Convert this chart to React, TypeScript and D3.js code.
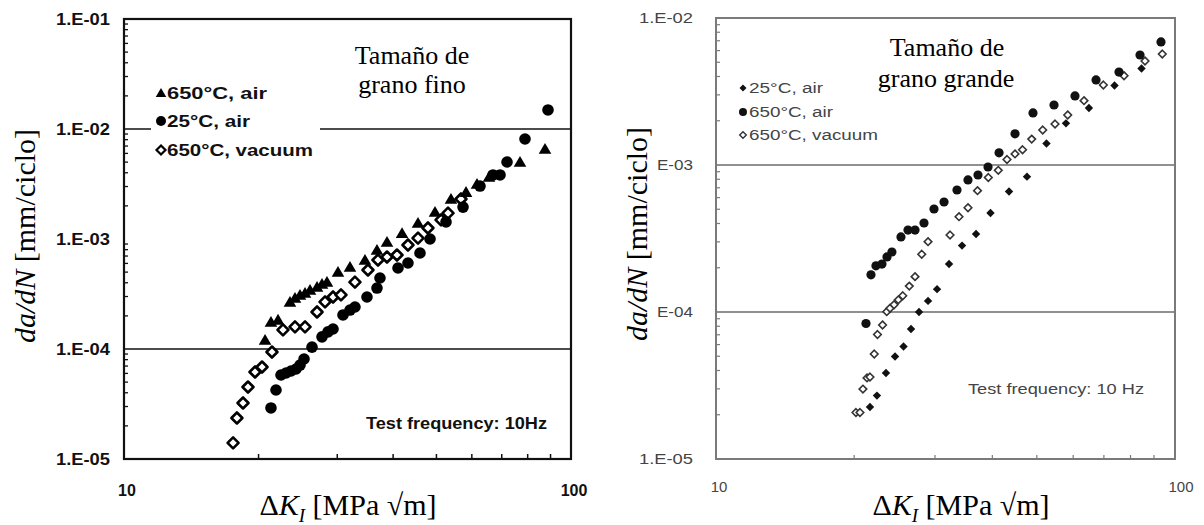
import React from "react";
import * as d3 from "d3";

// ---------- data (ΔK [MPa√m], da/dN [mm/ciclo]) ----------
// Left chart: fine grain
const fineAir650: [number, number][] = [
  [20.68, 1.21e-4], [21.32, 1.76e-4], [22.11, 1.84e-4], [23.51, 2.68e-4], [24.13, 2.91e-4],
  [24.76, 3.1e-4], [25.41, 3.23e-4], [26.07, 3.44e-4], [27.03, 3.66e-4], [27.73, 3.9e-4],
  [28.45, 4.06e-4], [30.11, 5.01e-4], [32.03, 5.57e-4], [34.6, 6.44e-4], [36.81, 7.94e-4],
  [38.76, 9.39e-4], [41.88, 1.13e-3], [45.47, 1.4e-3], [49.63, 1.76e-3], [53.89, 2.31e-3],
  [58.23, 2.67e-3], [61.62, 3.16e-3], [65.55, 3.66e-3], [76.9, 5.01e-3], [87.47, 6.58e-3],
];
const fineAir25: [number, number][] = [
  [21.32, 2.91e-5], [21.88, 4.24e-5], [22.45, 5.8e-5], [23.04, 6.05e-5], [23.64, 6.31e-5],
  [24.26, 6.58e-5], [24.76, 7.15e-5], [25.28, 8.11e-5], [26.34, 1.04e-4], [27.73, 1.29e-4],
  [28.6, 1.43e-4], [29.35, 1.52e-4], [30.9, 2.04e-4], [32.03, 2.26e-4], [32.86, 2.41e-4],
  [34.96, 2.97e-4], [36.81, 3.58e-4], [37.38, 4.42e-4], [41.02, 5.45e-4], [43.18, 6.05e-4],
  [45.94, 7.46e-4], [48.37, 1.0e-3], [52.53, 1.43e-3], [57.34, 1.95e-3], [62.58, 3.03e-3],
  [66.92, 3.82e-3], [69.38, 3.82e-3], [71.92, 5.01e-3], [78.9, 8.11e-3], [88.83, 1.49e-2],
];
const fineVac650: [number, number][] = [
  [17.54, 1.4e-5], [17.89, 2.36e-5], [18.46, 3.23e-5], [18.94, 4.51e-5], [19.64, 6.18e-5],
  [20.36, 6.86e-5], [21.43, 9.39e-5], [22.68, 1.49e-4], [24.13, 1.59e-4], [25.41, 1.59e-4],
  [27.03, 2.17e-4], [28.17, 2.68e-4], [29.35, 2.97e-4], [30.58, 3.1e-4], [32.86, 4.06e-4],
  [35.14, 5.23e-4], [37.0, 6.44e-4], [38.76, 6.86e-4], [40.8, 7.15e-4], [43.18, 8.82e-4],
  [45.47, 1.02e-3], [47.86, 1.26e-3], [51.2, 1.49e-3], [53.07, 1.72e-3], [56.74, 2.31e-3],
];

// Right chart: coarse grain
const coarseAir650: [number, number][] = [
  [21.22, 8.35e-5], [21.76, 1.79e-4], [22.31, 2.06e-4], [22.99, 2.12e-4], [23.58, 2.37e-4],
  [24.17, 2.56e-4], [25.29, 3.24e-4], [26.2, 3.61e-4], [27.14, 3.61e-4], [28.39, 4.03e-4],
  [29.85, 5.02e-4], [31.39, 5.6e-4], [33.5, 6.76e-4], [35.4, 7.91e-4], [37.22, 8.55e-4],
  [39.14, 9.69e-4], [41.37, 1.21e-3], [44.82, 1.63e-3], [49.05, 2.26e-3], [54.5, 2.56e-3],
  [60.55, 2.95e-3], [67.29, 3.79e-3], [75.51, 4.29e-3], [83.9, 5.6e-3], [93.22, 6.87e-3],
];
const coarseAir25: [number, number][] = [
  [21.65, 2.26e-5], [22.42, 2.7e-5], [23.46, 3.85e-5], [24.55, 4.98e-5], [25.62, 5.82e-5],
  [26.6, 7.66e-5], [27.69, 1.0e-4], [28.97, 1.19e-4], [30.31, 1.43e-4], [32.19, 2.12e-4],
  [34.36, 2.83e-4], [36.86, 3.39e-4], [39.63, 4.72e-4], [43.49, 6.6e-4], [47.59, 8.33e-4],
  [52.48, 1.4e-3], [57.87, 1.92e-3], [64.94, 2.44e-3], [73.83, 3.47e-3], [84.53, 4.53e-3],
];
const coarseVac650: [number, number][] = [
  [20.18, 2.07e-5], [20.59, 2.07e-5], [20.9, 2.99e-5], [21.33, 3.56e-5], [21.65, 3.61e-5],
  [22.12, 5.18e-5], [22.48, 7.03e-5], [23.06, 8.16e-5], [23.55, 1.005e-4], [23.94, 1.06e-4],
  [24.43, 1.12e-4], [24.96, 1.21e-4], [25.52, 1.29e-4], [26.37, 1.5e-4], [27.14, 1.74e-4],
  [28.07, 2.47e-4], [28.97, 3.01e-4], [32.35, 3.34e-4], [33.84, 4.45e-4], [35.4, 5.12e-4],
  [37.13, 6.69e-4], [39.2, 8.22e-4], [41.21, 9.2e-4], [43.05, 1.09e-3], [44.82, 1.19e-3],
  [46.54, 1.27e-3], [48.73, 1.5e-3], [51.5, 1.73e-3], [54.78, 1.9e-3], [58.38, 2.19e-3],
  [63.36, 2.74e-3], [69.81, 3.5e-3], [77.44, 4.05e-3], [86.03, 5.1e-3], [93.83, 5.69e-3],
];

const xTickValues = [10, 100];
const xTickLabels = ["10", "100"];
const leftYValues = [1e-1, 1e-2, 1e-3, 1e-4, 1e-5];
const leftYLabels = ["1.E-01", "1.E-02", "1.E-03", "1.E-04", "1.E-05"];
const rightYValues = [1e-2, 1e-3, 1e-4, 1e-5];
const rightYLabels = ["1.E-02", "E-03", "E-04", "1.E-05"];
const leftGrid = [1e-2, 1e-4];
const rightGrid = [1e-3, 1e-4];
const leftLegend = ["650°C, air", "25°C, air", "650°C, vacuum"];
const rightLegend = ["25°C, air", "650°C, air", "650°C, vacuum"];

const SANS = "'Liberation Sans', Arial, sans-serif";
const SERIF = "'Liberation Serif', 'Times New Roman', serif";

function minorTicks(lo: number, hi: number): number[] {
  const out: number[] = [];
  for (let d = lo; d < hi; d *= 10) for (let k = 2; k <= 9; k++) out.push(d * k);
  return out;
}

const tri = (x: number, y: number, r: number) =>
  `M${x},${y - r}L${x + r * 1.05},${y + r * 0.8}L${x - r * 1.05},${y + r * 0.8}Z`;
const dia = (x: number, y: number, r: number) =>
  `M${x},${y - r}L${x + r},${y}L${x},${y + r}L${x - r},${y}Z`;

function AxisTitles({ cx, yTitleX, yTitleY }: { cx: number; yTitleX: number; yTitleY: number }) {
  return (
    <g fontFamily={SERIF} fill="#000">
      <text x={cx} y={515} fontSize={30} textAnchor="middle">
        ΔK<tspan fontStyle="italic" dx={-2}></tspan>
      </text>
      <text
        transform={`translate(${yTitleX},${yTitleY}) rotate(-90)`}
        fontSize={30}
        textAnchor="middle"
      >
        <tspan fontStyle="italic">da/dN</tspan> [mm/ciclo]
      </text>
    </g>
  );
}

function XTitle({ cx }: { cx: number }) {
  return (
    <text x={cx} y={515} fontSize={30} textAnchor="middle" fontFamily={SERIF} fill="#000">
      Δ<tspan fontStyle="italic">K</tspan>
      <tspan fontStyle="italic" fontSize={19} dy={7}>I</tspan>
      <tspan dy={-7}> [MPa √m]</tspan>
    </text>
  );
}

function YTitle({ x, y }: { x: number; y: number }) {
  return (
    <text
      transform={`translate(${x},${y}) rotate(-90)`}
      fontSize={30}
      textAnchor="middle"
      fontFamily={SERIF}
      fill="#000"
    >
      <tspan fontStyle="italic">da/dN</tspan> [mm/ciclo]
    </text>
  );
}

function LeftChart() {
  const x = d3.scaleLog().domain([10, 100]).range([124, 571]);
  const y = d3.scaleLog().domain([1e-5, 1e-1]).range([459, 19]);
  const yMinor = minorTicks(1e-5, 1e-1);
  const xMinor = minorTicks(10, 100);
  const lw = [100, 83, 146];
  return (
    <g>
      {/* grid */}
      {leftGrid.map((v) => (
        <line key={v} x1={124} x2={571} y1={y(v)} y2={y(v)} stroke="#111" strokeWidth={1.6} />
      ))}
      {/* minor ticks */}
      {yMinor.map((v) => (
        <line key={"ym" + v} x1={124} x2={128} y1={y(v)} y2={y(v)} stroke="#111" strokeWidth={1.3} />
      ))}
      {xMinor.map((v) => (
        <line key={"xm" + v} x1={x(v)} x2={x(v)} y1={459} y2={454} stroke="#111" strokeWidth={1.5} />
      ))}
      {/* frame */}
      <rect x={124} y={19} width={447} height={440} fill="none" stroke="#111" strokeWidth={2.2} />
      {/* legend box (hides grid line) */}
      <rect x={151} y={80} width={169} height={82} fill="#fff" />
      {/* data */}
      {fineVac650.map(([a, b], i) => (
        <path key={"v" + i} d={dia(x(a), y(b), 5.5)} fill="#fff" stroke="#000" strokeWidth={2.6} strokeLinejoin="round" />
      ))}
      {fineAir25.map(([a, b], i) => (
        <circle key={"c" + i} cx={x(a)} cy={y(b)} r={5.8} fill="#000" />
      ))}
      {fineAir650.map(([a, b], i) => (
        <path key={"t" + i} d={tri(x(a), y(b), 6)} fill="#000" />
      ))}
      {/* legend */}
      <g fontFamily={SANS} fontWeight="bold" fontSize={16} fill="#111">
        <path d={tri(161, 93, 5)} fill="#000" />
        <circle cx={161} cy={121} r={5} fill="#000" />
        <path d={dia(161, 150, 4.5)} fill="#fff" stroke="#000" strokeWidth={2.2} />
        {leftLegend.map((t, i) => (
          <text key={t} x={167} y={[93, 121, 150][i] + 6} textLength={lw[i]} lengthAdjust="spacingAndGlyphs">
            {t}
          </text>
        ))}
      </g>
      <text x={366} y={429} fontFamily={SANS} fontWeight="bold" fontSize={16} fill="#111" textLength={181} lengthAdjust="spacingAndGlyphs">
        Test frequency: 10Hz
      </text>
      {/* tick labels */}
      <g fontFamily={SANS} fontWeight="bold" fontSize={16} fill="#111">
        {leftYValues.map((v, i) => (
          <text key={v} x={56} y={y(v) + 6} textLength={54} lengthAdjust="spacingAndGlyphs">
            {leftYLabels[i]}
          </text>
        ))}
        {xTickValues.map((v, i) => (
          <text key={v} x={x(v) + 3} y={496} textAnchor="middle">
            {xTickLabels[i]}
          </text>
        ))}
      </g>
      {/* annotation */}
      <g fontFamily={SERIF} fontSize={26} fill="#000" textAnchor="middle">
        <text x={412} y={64}>Tamaño de</text>
        <text x={412} y={93}>grano fino</text>
      </g>
      <XTitle cx={348} />
      <YTitle x={35} y={236} />
    </g>
  );
}

function RightChart() {
  const x = d3.scaleLog().domain([10, 100]).range([716, 1175]);
  const y = d3.scaleLog().domain([1e-5, 1e-2]).range([459, 18]);
  const yMinor = minorTicks(1e-5, 1e-2);
  const xMinor = minorTicks(10, 100);
  const lw = [74, 84, 129];
  const grey = "#7a7a7a";
  return (
    <g>
      {rightGrid.map((v) => (
        <line key={v} x1={716} x2={1175} y1={y(v)} y2={y(v)} stroke="#909090" strokeWidth={2} />
      ))}
      {yMinor.map((v) => (
        <line key={"ym" + v} x1={716} x2={720} y1={y(v)} y2={y(v)} stroke={grey} strokeWidth={1.2} />
      ))}
      {xMinor.map((v) => (
        <line key={"xm" + v} x1={x(v)} x2={x(v)} y1={459} y2={455} stroke={grey} strokeWidth={1.2} />
      ))}
      <rect x={716} y={18} width={459} height={441} fill="none" stroke={grey} strokeWidth={2} />
      {coarseVac650.map(([a, b], i) => (
        <path key={"v" + i} d={dia(x(a), y(b), 3.8)} fill="#fff" stroke="#333" strokeWidth={1.6} />
      ))}
      {coarseAir25.map(([a, b], i) => (
        <path key={"d" + i} d={dia(x(a), y(b), 4.2)} fill="#111" />
      ))}
      {coarseAir650.map(([a, b], i) => (
        <circle key={"c" + i} cx={x(a)} cy={y(b)} r={4.6} fill="#111" />
      ))}
      {/* legend */}
      <g fontFamily={SANS} fontSize={14} fill="#444">
        <path d={dia(743, 88, 3.5)} fill="#111" />
        <circle cx={743} cy={112} r={4} fill="#111" />
        <path d={dia(743, 135, 3.3)} fill="#fff" stroke="#333" strokeWidth={1.4} />
        {rightLegend.map((t, i) => (
          <text key={t} x={749} y={[88, 112, 135][i] + 5} textLength={lw[i]} lengthAdjust="spacingAndGlyphs">
            {t}
          </text>
        ))}
      </g>
      <text x={968} y={394} fontFamily={SANS} fontSize={15} fill="#444" textLength={176} lengthAdjust="spacingAndGlyphs">
        Test frequency: 10 Hz
      </text>
      <g fontFamily={SANS} fontSize={15} fill="#444">
        {rightYValues.map((v, i) => (
          <text key={v} x={693} y={y(v) + 5} textAnchor="end" textLength={rightYLabels[i].length * 9} lengthAdjust="spacingAndGlyphs">
            {rightYLabels[i]}
          </text>
        ))}
        {xTickValues.map((v, i) => (
          <text key={v} x={x(v) + (i === 0 ? 3 : 6)} y={492} textAnchor="middle">
            {xTickLabels[i]}
          </text>
        ))}
      </g>
      <g fontFamily={SERIF} fontSize={26} fill="#000" textAnchor="middle">
        <text x={947} y={56}>Tamaño de</text>
        <text x={946} y={87}>grano grande</text>
      </g>
      <XTitle cx={961} />
      <YTitle x={647} y={234} />
    </g>
  );
}

export default function App() {
  return (
    <svg
      width={1204}
      height={525}
      viewBox="0 0 1204 525"
      style={{ position: "absolute", left: 0, top: 0, background: "#fff" }}
    >
      <rect width={1204} height={525} fill="#fff" />
      <LeftChart />
      <RightChart />
    </svg>
  );
}
